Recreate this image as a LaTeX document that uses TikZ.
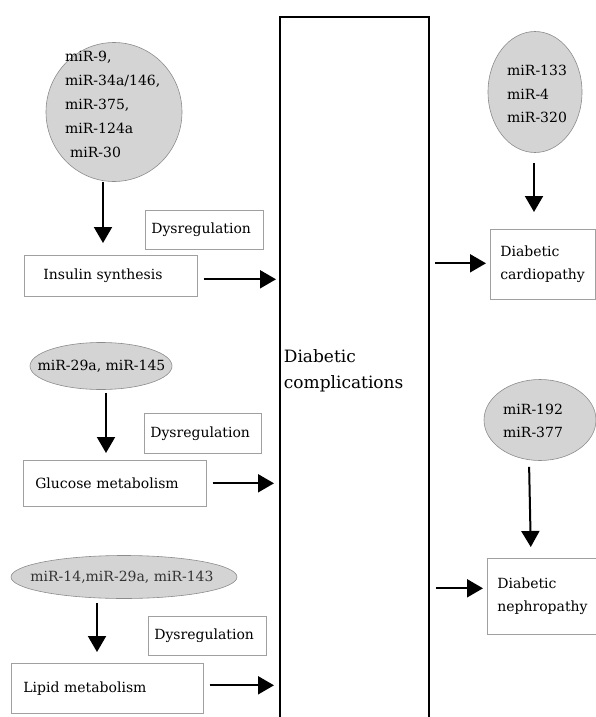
\documentclass[tikz,border=0pt]{standalone}
\usepackage{fontspec}
\setmainfont{DejaVu Serif}
\usetikzlibrary{arrows.meta,shapes.geometric}
\lefthyphenmin=64
\definecolor{ellfill}{HTML}{D4D4D4}
\definecolor{elldraw}{HTML}{8C8C8C}
\definecolor{boxdraw}{HTML}{A0A0A0}
\begin{document}
\begin{tikzpicture}[x=1pt,y=-1pt,
  ell/.style={ellipse, draw=elldraw, fill=ellfill, line width=0.6pt, inner sep=0pt},
  txt/.style={inner sep=0pt, align=left, font=\fontsize{14}{24}\selectfont},
  lbox/.style={draw=boxdraw, line width=0.6pt, anchor=north west, align=left,
    inner ysep=0pt, font=\fontsize{14}{23}\selectfont},
  bigbox/.style={draw=black, line width=1.8pt, anchor=north west, align=left,
    inner ysep=0pt, font=\fontsize{17}{26}\selectfont},
  arr/.style={line width=2pt, -{Triangle[length=16pt,width=18pt]}}
]
\useasboundingbox (0,0) rectangle (596,717);

% central box
\node[bigbox, minimum width=149pt, minimum height=708pt, text width=141pt, inner xsep=4pt] (dc) at (279,16) {Diabetic\\complications};

% left column
\node[ell, minimum width=136pt, minimum height=139pt] (e1) at (114,112) {};
\node[txt, anchor=west] (t1) at (65,104) {miR-9,\\miR-34a/146,\\miR-375,\\miR-124a\\\hspace{5pt}miR-30};
\node[lbox, minimum width=118pt, minimum height=39pt, text width=106pt, inner xsep=6pt] (d1) at (145,210) {Dysregulation};
\node[lbox, minimum width=173pt, minimum height=41pt, text width=135pt, inner xsep=19pt] (ins) at (24,255) {Insulin synthesis};

\node[ell, minimum width=142pt, minimum height=47pt] (e2) at (101,366) {};
\node[txt] (t2) at (101.5,366) {miR-29a, miR-145};
\node[lbox, minimum width=117pt, minimum height=40pt, text width=105pt, inner xsep=6pt] (d2) at (144,413) {Dysregulation};
\node[lbox, minimum width=183pt, minimum height=46pt, text width=159pt, inner xsep=12pt] (glu) at (23,460) {Glucose metabolism};

\node[ell, minimum width=226pt, minimum height=43pt] (e3) at (124,577) {};
\node[txt, text=black!80] (t3) at (122,577) {miR-14,miR-29a, miR-143};
\node[lbox, minimum width=118pt, minimum height=39pt, text width=106pt, inner xsep=6pt] (d3) at (148,616) {Dysregulation};
\node[lbox, minimum width=192pt, minimum height=50pt, text width=168pt, inner xsep=12pt] (lip) at (11,663) {Lipid metabolism};

% right column
\node[ell, minimum width=94pt, minimum height=121pt] (e4) at (535,92) {};
\node[txt, anchor=west, font=\fontsize{14}{23.5}\selectfont] (t4) at (507,94) {miR-133\\miR-4\\miR-320};
\node[lbox, minimum width=105pt, minimum height=70pt, text width=85pt, inner xsep=10pt] (car) at (490,229) {Diabetic\\cardiopathy};
\node[ell, minimum width=112pt, minimum height=81pt] (e5) at (540,420) {};
\node[txt, anchor=west, font=\fontsize{14}{23}\selectfont] (t5) at (503,421) {miR-192\\miR-377};
\node[lbox, minimum width=108.5pt, minimum height=76pt, text width=88.5pt, inner xsep=10pt] (nep) at (487,558) {Diabetic\\nephropathy};

% vertical arrows
\draw[arr, shorten >=12pt] ([xshift=-11pt]e1.south) -- ([xshift=-11pt]e1.south |- ins.north);
\draw[arr, shorten <=3pt, shorten >=7pt] ([xshift=5pt]e2.south) -- ([xshift=5pt]e2.south |- glu.north);
\draw[arr, shorten <=4pt, shorten >=11pt] ([xshift=-27pt]e3.south) -- ([xshift=-27pt]e3.south |- lip.north);
\draw[arr, shorten <=10pt, shorten >=17pt] ([xshift=-1pt]e4.south) -- ([xshift=-1pt]e4.south |- car.north);
\draw[arr, shorten <=6pt, shorten >=11pt] ([xshift=-11pt]e5.south) -- ([xshift=-9pt]e5.south |- nep.north);

% horizontal arrows
\coordinate (a1) at ([yshift=-3.5pt]ins.east);
\draw[arr, shorten <=6pt, shorten >=3pt] (a1) -- (a1 -| dc.west);
\draw[arr, shorten <=6pt, shorten >=5pt] (glu.east) -- (glu.east -| dc.west);
\coordinate (a3) at ([yshift=3pt]lip.east);
\draw[arr, shorten <=6pt, shorten >=5pt] (a3) -- (a3 -| dc.west);
\coordinate (a4) at ([yshift=1pt]car.west);
\draw[arr, shorten <=5pt, shorten >=4pt] (a4 -| dc.east) -- (a4);
\coordinate (a5) at ([yshift=8pt]nep.west);
\draw[arr, shorten <=6pt, shorten >=4pt] (a5 -| dc.east) -- (a5);
\end{tikzpicture}
\end{document}
